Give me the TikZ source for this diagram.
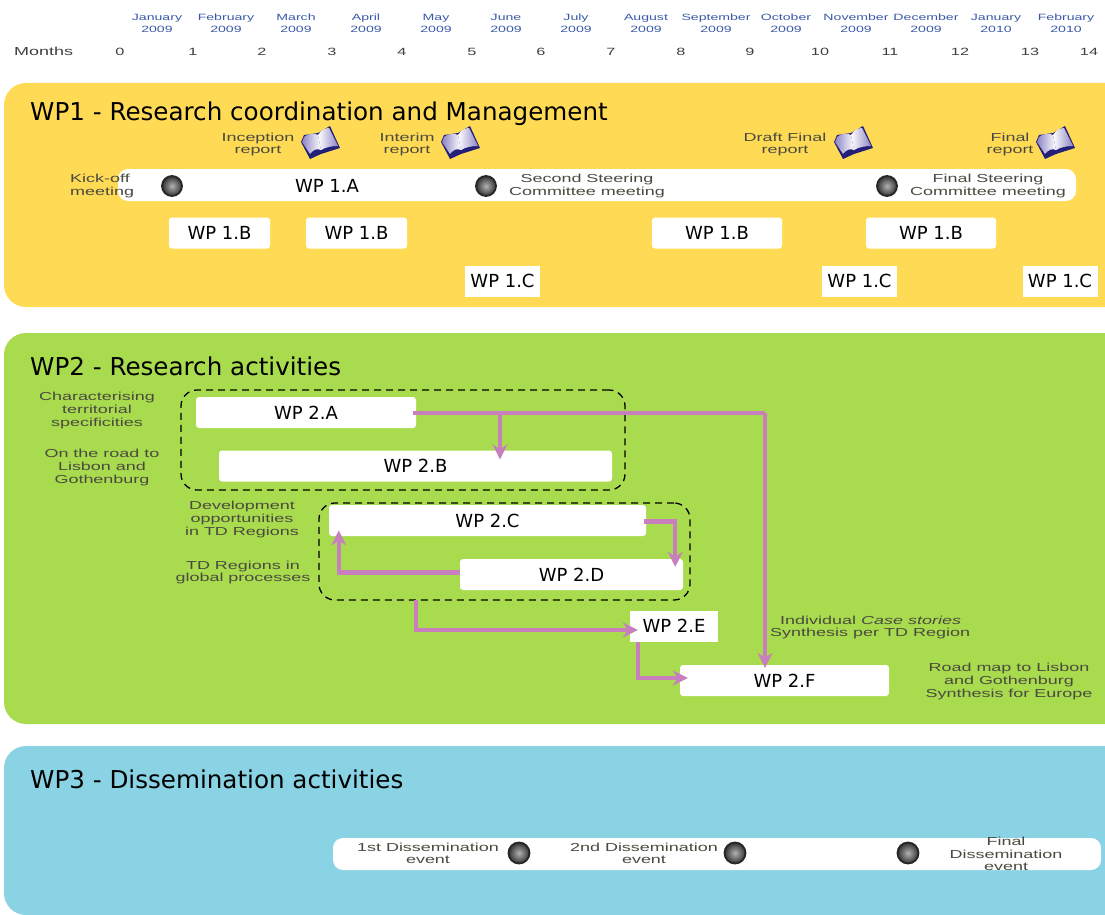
\documentclass[tikz,border=0pt]{standalone}
\usepackage{fontspec}
\usepackage{tikz}
\usetikzlibrary{arrows.meta}
\setmainfont{DejaVu Sans}
\newfontfamily\notefont[FakeStretch=1.55]{Liberation Sans}
\definecolor{wpyellow}{HTML}{FFDB55}
\definecolor{wpgreen}{HTML}{A9DB4E}
\definecolor{wpblue}{HTML}{8AD3E5}
\definecolor{wplink}{HTML}{C87FBE}
\definecolor{wpmonth}{HTML}{3A5AA8}
\definecolor{wpnote}{HTML}{4A4A40}
\definecolor{wpbook}{HTML}{24207A}
\definecolor{wppage}{HTML}{8C85C4}
\tikzset{
  panel/.style={rounded corners=22pt},
  title/.style={anchor=west, inner sep=0, yshift=-1.5pt, font=\fontsize{24.6}{28}\selectfont},
  month/.style={align=center, inner sep=0, text=wpmonth, font=\notefont\fontsize{9.1}{12}\selectfont},
  tick/.style={inner sep=0, text=black!75, font=\notefont\fontsize{10.5}{12}\selectfont},
  note/.style={align=center, inner sep=0, yshift=-1pt, text=wpnote, font=\notefont\fontsize{11.6}{12.6}\selectfont},
  wpbox/.style={fill=white, rounded corners=3pt, inner sep=0, minimum height=31pt, font=\fontsize{18}{20}\selectfont},
  bar/.style={fill=white, rounded corners=10pt, inner sep=0, minimum height=32pt},
  ball/.style={circle, draw=black!85, line width=1.8pt, inner color=black!30, outer color=black!80, inner sep=0, minimum size=20pt},
  link/.style={draw=wplink, line width=4.4pt, -{Stealth[length=15pt,width=15pt]}},
  plainlink/.style={draw=wplink, line width=4.4pt},
  group/.style={draw=black, line width=1.3pt, dash pattern=on 7pt off 5pt, rounded corners=16pt, inner sep=0}
}
% open book, centred on the given point
\newcommand{\book}[2]{%
  \begin{scope}[shift={(#1,#2)}]
    \fill[wpbook] (-19,-1) -- (-10,16) -- (1,11) -- (20,5) -- (10,-17) -- (-2,-10) -- (-16,-8) -- cycle;
    \shade[shading angle=110, left color=wppage, right color=white] (-16,-6) .. controls (-11,-10) and (-6,-10) .. (-2,-8) -- (1,7) .. controls (-3,5) and (-7,7) .. (-10,11) -- (-18,-1) -- cycle;
    \shade[shading angle=110, left color=white, right color=wppage] (-2,-8) .. controls (1,-13) and (5,-15) .. (9,-15) -- (18,3) .. controls (12,3) and (6,4) .. (1,7) -- cycle;
  \end{scope}}
\begin{document}
\begin{tikzpicture}[x=1pt, y=-1pt]
\useasboundingbox (0,0) rectangle (1105,915);
\fill[white] (0,0) rectangle (1105,915);
% time line
\node[tick, anchor=west, font=\notefont\fontsize{11.6}{12}\selectfont] (months) at (14,51.5) {Months};
\foreach \m/\mx in {0/120,1/193,2/262,3/332,4/402,5/472,6/541,7/611,8/681,9/750,10/820,11/890,12/960,13/1030,14/1089}
  \node[tick] (tick\m) at (\mx,51.5) {\m};
\foreach \name/\yr/\mx [count=\i] in {January/2009/157,February/2009/226,March/2009/296,April/2009/366,May/2009/436,June/2009/506,July/2009/576,August/2009/646,September/2009/716,October/2009/786,November/2009/856,December/2009/926,January/2010/996,February/2010/1066}
  \node[month] (month\i) at (\mx,23) {\name\\\yr};
% panels
\fill[wpyellow, panel] (4,83) -- (4,307) -- (1130,307) -- (1130,83) -- cycle;
\fill[wpgreen, panel] (4,333) -- (4,724) -- (1130,724) -- (1130,333) -- cycle;
\fill[wpblue, panel] (4,746) -- (4,915) -- (1130,915) -- (1130,746) -- cycle;
\node[title] (wp1) at (30,112) {WP1 - Research coordination and Management};
\node[title] (wp2) at (30,365) {WP2 - Research activities};
\node[title] (wp3) at (30,778) {WP3 - Dissemination activities};
% WP1
\node[bar, minimum width=958pt] (wp1a) at (597,185) {};
\node[font=\fontsize{18}{20}\selectfont, inner sep=0] (wp1alabel) at (327,186) {WP 1.A};
\node[wpbox, minimum width=101pt] (wp1b1) at (219.5,233) {WP 1.B\hspace{10pt}};
\node[wpbox, minimum width=101pt] (wp1b2) at (356.5,233) {WP 1.B\hspace{9pt}};
\node[wpbox, minimum width=130pt] (wp1b3) at (717,233) {WP 1.B\hspace{14pt}};
\node[wpbox, minimum width=130pt] (wp1b4) at (931,233) {WP 1.B\hspace{12pt}};
\node[wpbox, rounded corners=0pt, minimum width=75pt] (wp1c1) at (502.5,281) {WP 1.C};
\node[wpbox, rounded corners=0pt, minimum width=75pt] (wp1c2) at (859.5,281) {WP 1.C};
\node[wpbox, rounded corners=0pt, minimum width=75pt] (wp1c3) at (1060,281) {WP 1.C};
\node[ball] (kickoff) at (172,186) {};
\node[ball] (second) at (486,186) {};
\node[ball] (final) at (887,186) {};
\node[note, align=left, anchor=west] (kicklabel) at (70,185) {Kick-off\\meeting};
\node[note] (secondlabel) at (587,185) {Second Steering\\Committee meeting};
\node[note] (finallabel) at (988,185) {Final Steering\\Committee meeting};
\node[note] (inception) at (258,143.5) {Inception\\report};
\node[note] (interim) at (407,143.5) {Interim\\report};
\node[note] (draft) at (785,143.5) {Draft Final\\report};
\node[note] (finalrep) at (1010,143.5) {Final\\report};
\book{320}{143}
\book{460}{143}
\book{853}{143}
\book{1055}{143}
% WP2
\node[group, minimum width=444pt, minimum height=100pt] (groupab) at (403,440) {};
\node[group, minimum width=371pt, minimum height=97pt] (groupcd) at (504.5,551.5) {};
\node[wpbox, minimum width=220pt] (wp2a) at (306,412.5) {WP 2.A};
\node[wpbox, minimum width=393pt] (wp2b) at (415.5,466) {WP 2.B\hspace{4pt}};
\node[wpbox, minimum width=317pt] (wp2c) at (487.5,520.5) {WP 2.C\hspace{16pt}};
\node[wpbox, minimum width=223pt] (wp2d) at (571.5,574.5) {WP 2.D\hspace{4pt}};
\node[wpbox, rounded corners=0pt, minimum width=88pt] (wp2e) at (674,626) {WP 2.E};
\node[wpbox, minimum width=209pt] (wp2f) at (784.5,680.5) {WP 2.F};
\coordinate (afork) at (500,413);
\coordinate (aturn) at (765,413);
\coordinate (cdout) at (416,600);
\draw[plainlink] ([xshift=-3pt]wp2a.east |- afork) -- (aturn);
\draw[link] (aturn) -- ([yshift=-3pt]aturn |- wp2f.north);
\draw[link] (afork) -- ([yshift=-9pt]afork |- wp2b.north);
\draw[link] ([xshift=-2pt,yshift=-1pt]wp2c.east) -| ([xshift=-8pt,yshift=-8pt]wp2d.north east);
\draw[link] ([yshift=2pt]wp2d.west) -| ([xshift=10pt,yshift=-10pt]wp2c.west);
\draw[link] (cdout) |- ([xshift=8pt,yshift=-4pt]wp2e.west);
\draw[link] ([xshift=-36pt]wp2e.south) |- ([xshift=8pt,yshift=2.5pt]wp2f.west);
\node[note] (terr) at (97,409.5) {Characterising\\territorial\\specificities};
\node[note] (road) at (102,466.5) {On the road to\\Lisbon and\\Gothenburg};
\node[note] (dev) at (242,518.5) {Development\\opportunities\\in TD Regions};
\node[note] (glob) at (243,571.5) {TD Regions in\\global processes};
\node[note, align=left, anchor=west] (cases) at (770,626.5) {\hspace{10pt}Individual {\itshape Case stories}\\Synthesis per TD Region};
\node[note] (roadmap) at (1009,680.5) {Road map to Lisbon\\and Gothenburg\\Synthesis for Europe};
% WP3
\node[bar, minimum width=768pt] (wp3a) at (717,854) {};
\node[ball, minimum size=21pt] (first) at (519,853) {};
\node[ball, minimum size=21pt] (secondev) at (735,853) {};
\node[ball, minimum size=21pt] (finalev) at (908,853) {};
\node[note] (firstlabel) at (428,852.5) {1st Dissemination\\event};
\node[note] (secondevlabel) at (644,852.5) {2nd Dissemination\\event};
\node[note] (finalevlabel) at (1006,853) {Final\\Dissemination\\event};
\end{tikzpicture}
\end{document}
